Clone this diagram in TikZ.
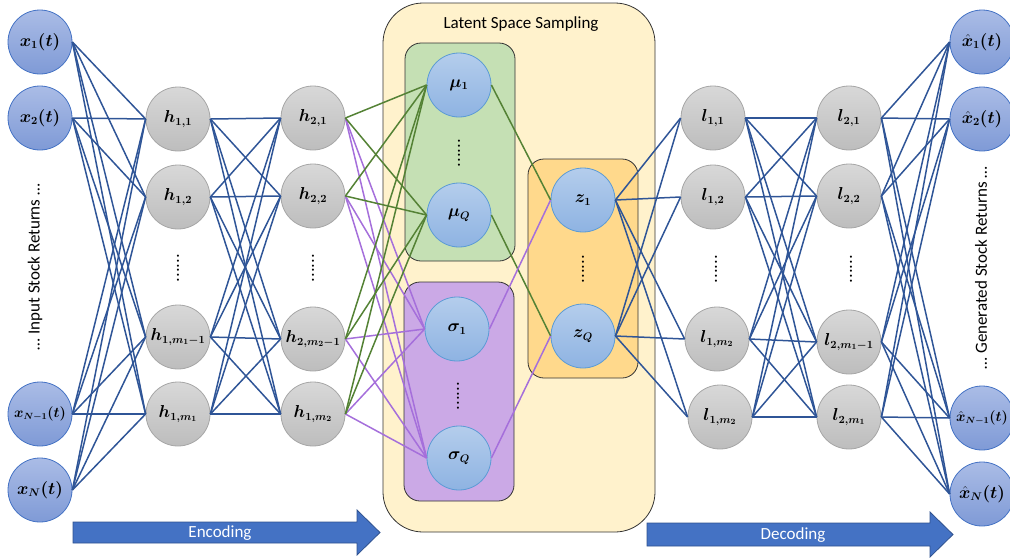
\documentclass[tikz,border=0pt]{standalone}
\usepackage{amsmath}
\usepackage{bm}
\usepackage{fontspec}
\newfontfamily\calibri{Carlito}
\definecolor{inpTop}{HTML}{AABCE6}
\definecolor{inpBot}{HTML}{7F9AD6}
\definecolor{inpBorder}{HTML}{4472C4}
\definecolor{latTop}{HTML}{B4CDEC}
\definecolor{latBot}{HTML}{8EB3E2}
\definecolor{latBorder}{HTML}{5B9BD5}
\definecolor{gryTop}{HTML}{D8D8D8}
\definecolor{gryBot}{HTML}{BDBDBD}
\definecolor{gryBorder}{HTML}{A6A6A6}
\definecolor{yelBox}{HTML}{FFF2CC}
\definecolor{grnBox}{HTML}{C5E0B4}
\definecolor{purBox}{HTML}{CBA9E6}
\definecolor{orgBox}{HTML}{FFD98C}
\definecolor{eBlue}{HTML}{2F5597}
\definecolor{eGreen}{HTML}{548235}
\definecolor{ePurple}{HTML}{A56FDB}
\definecolor{arrFill}{HTML}{4472C4}
\definecolor{arrBorder}{HTML}{2F528F}
\begin{document}
\begin{tikzpicture}[x=1pt,y=-1pt,
  neuron/.style={circle, minimum size=64, inner sep=0, line width=0.8,
    font=\fontsize{16}{18}\selectfont},
  small/.style={font=\fontsize{13.5}{15}\selectfont},
  inp/.style={neuron, draw=inpBorder, top color=inpTop, bottom color=inpBot},
  lat/.style={neuron, draw=latBorder, top color=latTop, bottom color=latBot},
  gry/.style={neuron, draw=gryBorder, top color=gryTop, bottom color=gryBot},
  vd/.style={rotate=90, inner sep=0, font=\bfseries\fontsize{15}{15}\selectfont},
  side/.style={rotate=90, inner sep=0, font=\calibri\fontsize{17}{19}\selectfont},
  boxline/.style={draw=black!80, line width=0.8},
  be/.style={draw=eBlue, line width=1.5},
  ge/.style={draw=eGreen, line width=1.5},
  pe/.style={draw=ePurple, line width=1.5},
  bigarrow/.style={fill=arrFill, draw=arrBorder, line width=0.8},
  arrtext/.style={text=white, inner sep=0, font=\calibri\fontsize{17}{19}\selectfont}
]
\useasboundingbox (0,0) rectangle (1010,558);

% latent space boxes
\draw[boxline, fill=yelBox, rounded corners=40] (383,3) rectangle (655,532);
\node[inner sep=0, font=\calibri\fontsize{17}{19}\selectfont] (title) at (521,24) {Latent Space Sampling};
\draw[boxline, fill=grnBox, rounded corners=16] (405,43) rectangle (515,261);
\draw[boxline, fill=purBox, rounded corners=16] (404,282) rectangle (514,501);
\draw[boxline, fill=orgBox, rounded corners=16] (528,159) rectangle (638,378);

% input layer
\node[inp] (x1) at (40,42) {$\bm{x_1(t)}$};
\node[inp] (x2) at (40,118) {$\bm{x_2(t)}$};
\node[inp, small] (x3) at (40,414) {$\bm{x_{N-1}(t)}$};
\node[inp] (x4) at (40,490) {$\bm{x_N(t)}$};
\node[side] (inlab) at (35,267) {… Input Stock Returns …};

% hidden encoder layer 1
\node[gry] (h11) at (178,119) {$\bm{h_{1,1}}$};
\node[gry] (h12) at (178,197) {$\bm{h_{1,2}}$};
\node[gry] (h13) at (178,337) {$\bm{h_{1,m_1-1}}$};
\node[gry] (h14) at (178,414) {$\bm{h_{1,m_1}}$};
\node[vd] (dh1) at (178,268) {......};

% hidden encoder layer 2
\node[gry] (h21) at (313,118) {$\bm{h_{2,1}}$};
\node[gry] (h22) at (313,196) {$\bm{h_{2,2}}$};
\node[gry] (h23) at (313,339) {$\bm{h_{2,m_2-1}}$};
\node[gry] (h24) at (313,414) {$\bm{h_{1,m_2}}$};
\node[vd] (dh2) at (313,268) {......};

% latent
\node[lat] (mu1) at (459,85) {$\bm{\mu_1}$};
\node[lat] (muQ) at (459,215) {$\bm{\mu_Q}$};
\node[vd] (dmu) at (459,153) {......};
\node[lat] (s1) at (457,329) {$\bm{\sigma_1}$};
\node[lat] (sQ) at (459,458) {$\bm{\sigma_Q}$};
\node[vd] (ds) at (458,396) {......};
\node[lat] (z1) at (583,200) {$\bm{z_1}$};
\node[lat] (zQ) at (583,336) {$\bm{z_Q}$};
\node[vd] (dz) at (583,269) {......};

% decoder layer 1
\node[gry] (l11) at (713,118) {$\bm{l_{1,1}}$};
\node[gry] (l12) at (713,197) {$\bm{l_{1,2}}$};
\node[gry] (l13) at (717,339) {$\bm{l_{1,m_2}}$};
\node[gry] (l14) at (720,417) {$\bm{l_{1,m_2}}$};
\node[vd] (dl1) at (716,269) {......};

% decoder layer 2
\node[gry] (l21) at (849,118) {$\bm{l_{2,1}}$};
\node[gry] (l22) at (849,196) {$\bm{l_{2,2}}$};
\node[gry] (l23) at (849,342) {$\bm{l_{2,m_1-1}}$};
\node[gry] (l24) at (849,417) {$\bm{l_{2,m_1}}$};
\node[vd] (dl2) at (851,269) {......};

% output layer
\node[inp] (o1) at (982,42) {$\bm{\hat{x}_1(t)}$};
\node[inp] (o2) at (982,119) {$\bm{\hat{x}_2(t)}$};
\node[inp, small] (o3) at (982,418) {$\bm{\hat{x}_{N-1}(t)}$};
\node[inp] (o4) at (982,494) {$\bm{\hat{x}_N(t)}$};
\node[side] (outlab) at (981,268) {… Generated Stock Returns …};

% connections
\foreach \a in {x1,x2,x3,x4}
  \foreach \b in {h11,h12,h13,h14}
    \draw[be] (\a.east) -- (\b.west);
\foreach \a in {h11,h12,h13,h14}
  \foreach \b in {h21,h22,h23,h24}
    \draw[be] (\a.east) -- (\b.west);
\foreach \a in {h21,h22,h23,h24}
  \foreach \b in {s1,sQ}
    \draw[pe] (\a.east) -- (\b.west);
\foreach \a in {h21,h22,h23,h24}
  \foreach \b in {mu1,muQ}
    \draw[ge] (\a.east) -- (\b.west);
\draw[ge] (mu1.east) -- (z1.west);
\draw[ge] (muQ.east) -- (zQ.west);
\draw[pe] (s1.east) -- (z1.west);
\draw[pe] (sQ.east) -- (zQ.west);
\foreach \a in {z1,zQ}
  \foreach \b in {l11,l12,l13,l14}
    \draw[be] (\a.east) -- (\b.west);
\foreach \a in {l11,l12,l13,l14}
  \foreach \b in {l21,l22,l23,l24}
    \draw[be] (\a.east) -- (\b.west);
\foreach \a in {l21,l22,l23,l24}
  \foreach \b in {o1,o2,o3,o4}
    \draw[be] (\a.east) -- (\b.west);

% big arrows
\draw[bigarrow] (73,522) -- (357,522) -- (357,510) -- (380,532.5) -- (357,555) -- (357,543) -- (73,543) -- cycle;
\node[arrtext] (enc) at (220,533) {Encoding};
\draw[bigarrow] (647,523) -- (930,523) -- (930,512) -- (953,534.5) -- (930,557) -- (930,546) -- (647,546) -- cycle;
\node[arrtext] (dec) at (793,535) {Decoding};
\end{tikzpicture}
\end{document}
